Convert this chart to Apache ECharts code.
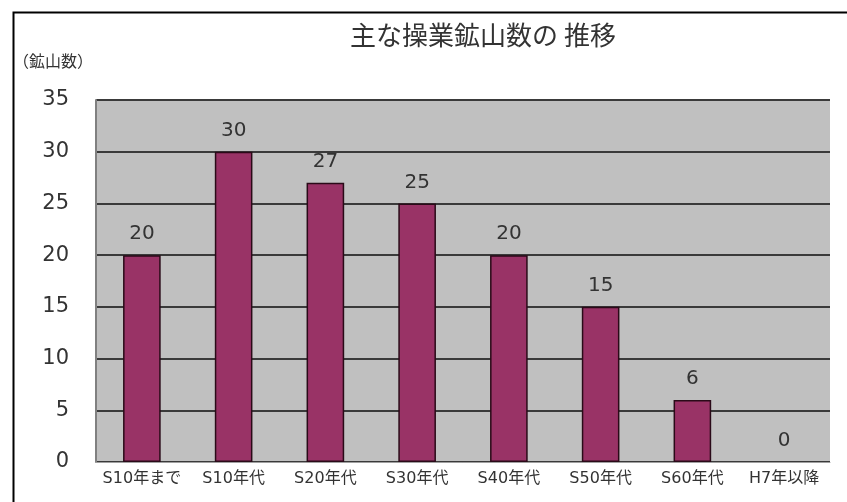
<!DOCTYPE html>
<html><head><meta charset="utf-8">
<script src="https://cdn.jsdelivr.net/npm/echarts@6/dist/echarts.min.js"></script>
<style>html,body{margin:0;padding:0;background:#fff}#c{width:847px;height:502px}</style>
</head><body><div id="c"></div>
<script>
const categories = ['S10年まで','S10年代','S20年代','S30年代','S40年代','S50年代','S60年代','H7年以降'];
const values = [20, 30, 27, 25, 20, 15, 6, 0];
const titleText = '主な操業鉱山数の 推移';
const yAxisName = '（鉱山数）';
const cjk = '"Noto Sans CJK JP", "DejaVu Sans", sans-serif';
const num = '"DejaVu Sans", "Noto Sans CJK JP", sans-serif';

const chart = echarts.init(document.getElementById('c'), null, {renderer: 'canvas'});
chart.setOption({
  animation: false,
  backgroundColor: '#fff',
  graphic: [{
    type: 'rect', left: 11, top: 10, shape: {width: 900, height: 600},
    style: {fill: 'none', stroke: '#000', lineWidth: 2}, z: 100
  }, {
    type: 'text', left: 13, top: 53,
    style: {text: yAxisName, font: '16px ' + cjk, fill: '#333'}
  }],
  title: {
    text: titleText, left: 478, top: 17, textAlign: 'center',
    textStyle: {fontFamily: cjk, fontSize: 26, fontWeight: 'normal', color: '#333'}
  },
  grid: {left: 96, right: 17, top: 100, bottom: 40, backgroundColor: '#c0c0c0', show: true, borderWidth: 0},
  xAxis: {
    type: 'category', data: categories,
    axisLine: {show: true, lineStyle: {color: '#a0a0a0', width: 1}},
    axisTick: {show: false},
    axisLabel: {fontFamily: num, fontSize: 16, color: '#333', margin: 9, interval: 0}
  },
  yAxis: {
    type: 'value', min: 0, max: 35, interval: 5,
    axisLine: {show: true, lineStyle: {color: '#808080', width: 2}},
    axisTick: {show: false},
    splitLine: {show: true, lineStyle: {color: '#3a3a3a', width: 2}},
    axisLabel: {fontFamily: num, fontSize: 21, color: '#333', margin: 27}
  },
  series: [{
    type: 'bar', barWidth: '41%',
    data: values.map(v => v === 0 ? {value: v, itemStyle: {borderWidth: 0}} : v),
    itemStyle: {color: '#993366', borderColor: '#2a0a18', borderWidth: 1.5},
    label: {show: true, position: 'top', distance: 11, fontFamily: num, fontSize: 20, color: '#333'}
  }]
});
</script></body></html>
